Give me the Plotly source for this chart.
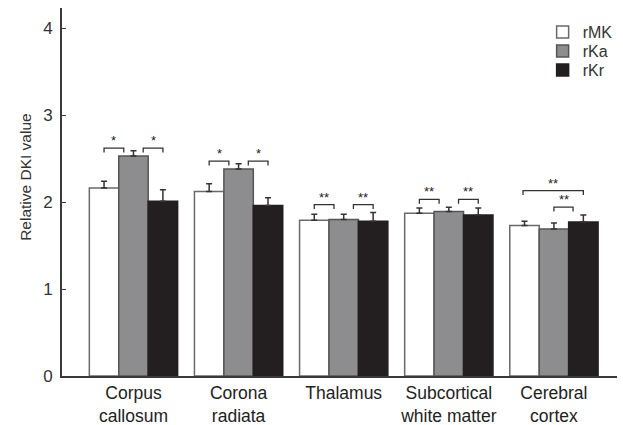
import plotly.graph_objects as go

# ---- data ----
categories = ["Corpus<br>callosum", "Corona<br>radiata", "Thalamus",
              "Subcortical<br>white matter", "Cerebral<br>cortex"]
series_names = ["rMK", "rKa", "rKr"]
rMK = [2.16, 2.12, 1.79, 1.87, 1.73]
rMK_err = [0.08, 0.09, 0.07, 0.06, 0.05]
rKa = [2.53, 2.38, 1.80, 1.89, 1.69]
rKa_err = [0.06, 0.06, 0.06, 0.05, 0.07]
rKr = [2.01, 1.96, 1.78, 1.85, 1.77]
rKr_err = [0.13, 0.09, 0.10, 0.08, 0.08]
y_ticks = [0, 1, 2, 3, 4]

# significance brackets: group index, start/end (in bar slots, -1=rMK, 0=rKa, 1=rKr), level, label
bracket_group = [0, 0, 1, 1, 2, 2, 3, 3, 4, 4]
bracket_start = [-1.0, 0.33, -1.0, 0.33, -1.0, 0.33, -1.0, 0.33, -1.05, 0.0]
bracket_end = [-0.33, 1.0, -0.33, 1.0, -0.33, 1.0, -0.33, 1.0, 1.0, 0.65]
bracket_level = [2.62, 2.62, 2.47, 2.47, 1.97, 1.97, 2.03, 2.03, 2.13, 1.94]
bracket_label = ["*", "*", "*", "*", "**", "**", "**", "**", "**", "**"]

fills = ["#ffffff", "#8d8d8f", "#231f20"]
outlines = ["#6a6a6a", "#555555", "#231f20"]
legend_ids = ["legend", "legend2", "legend3"]

x = list(range(len(categories)))
fig = go.Figure()
for name, vals, errs, fc, lc, lg in zip(series_names, [rMK, rKa, rKr],
                                        [rMK_err, rKa_err, rKr_err], fills, outlines,
                                        legend_ids):
    fig.add_trace(go.Bar(
        x=x, y=vals, name=name, legend=lg,
        marker=dict(color=fc, line=dict(color=lc, width=1.5)),
        error_y=dict(type="data", array=errs, symmetric=False,
                     arrayminus=[0] * len(vals), color="#333333",
                     thickness=1.5, width=3),
    ))

bargap = 0.16
slot = (1 - bargap) / 3
leg = 0.05
for g, s, e, lvl, lab in zip(bracket_group, bracket_start, bracket_end,
                             bracket_level, bracket_label):
    x0 = g + s * slot
    x1 = g + e * slot
    fig.add_shape(type="path",
                  path=f"M {x0},{lvl - leg} L {x0},{lvl} L {x1},{lvl} L {x1},{lvl - leg}",
                  xref="x", yref="y", line=dict(color="#333333", width=1.3))
    fig.add_annotation(x=(x0 + x1) / 2, y=lvl, text=lab, showarrow=False,
                       xref="x", yref="y", yanchor="bottom", yshift=-2,
                       font=dict(family="Arial, Liberation Sans", size=13, color="#222"))

fig.add_annotation(text="Relative DKI value", xref="paper", yref="paper",
                   x=-0.065, y=0.541, xanchor="center", yanchor="middle",
                   textangle=-90, showarrow=False,
                   font=dict(family="Arial, Liberation Sans", size=15.5, color="#333"))

legend_style = dict(x=0.866, xanchor="left", yanchor="middle",
                    font=dict(size=16, color="#333"), bgcolor="rgba(0,0,0,0)",
                    itemclick=False, itemdoubleclick=False)
legend_y = [1 - (32 - 8) / 368, 1 - (51 - 8) / 368, 1 - (70 - 8) / 368]

fig.update_layout(
    width=623, height=425,
    margin=dict(l=62, r=6, t=8, b=49, autoexpand=False),
    paper_bgcolor="white", plot_bgcolor="white",
    barmode="group", bargap=bargap, bargroupgap=0,
    font=dict(family="Arial, Liberation Sans", color="#222"),
    showlegend=True,
    legend=dict(y=legend_y[0], **legend_style),
    legend2=dict(y=legend_y[1], **legend_style),
    legend3=dict(y=legend_y[2], **legend_style),
    xaxis=dict(range=[-0.68, 4.6], tickmode="array", tickvals=x, ticktext=categories,
               showline=True, linecolor="#3a3a3a", linewidth=2, ticks="",
               showgrid=False, zeroline=False, automargin=False,
               tickfont=dict(size=17.5, color="#222")),
    yaxis=dict(range=[0, 4.23], tickmode="array", tickvals=y_ticks,
               showline=True, linecolor="#3a3a3a", linewidth=2, ticks="inside",
               ticklen=4, tickcolor="#3a3a3a", showgrid=False, zeroline=False,
               automargin=False, ticklabelstandoff=4,
               tickfont=dict(size=17, color="#333")),
)

fig.write_html("out.html", config={"displayModeBar": False},
               post_script="document.body.style.margin='0px';document.body.style.overflow='hidden';")
